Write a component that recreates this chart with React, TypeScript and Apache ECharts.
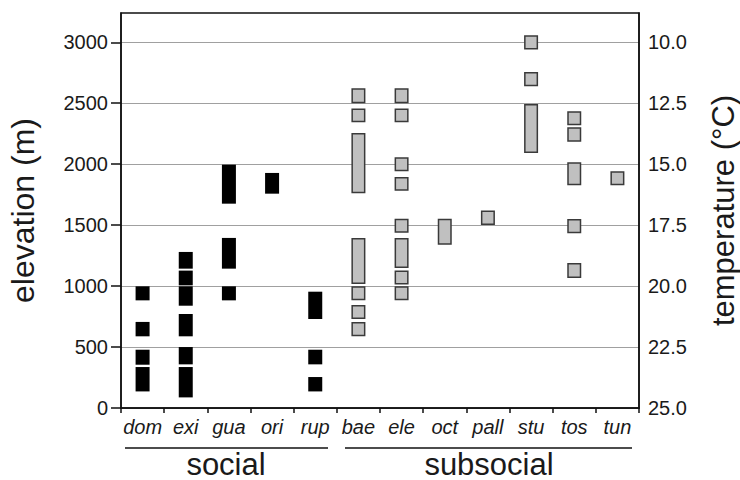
import React, { useEffect, useRef } from "react";
import * as echarts from "echarts";

const categories = ["dom", "exi", "gua", "ori", "rup", "bae", "ele", "oct", "pall", "stu", "tos", "tun"];
const elevationTicks = [0, 500, 1000, 1500, 2000, 2500, 3000];
const temperatureTicks = [10, 12.5, 15, 17.5, 20, 22.5, 25];

// [species, low elevation (m), high elevation (m)]
const socialRanges: [string, number, number][] = [
  ["dom", 883, 998], ["dom", 588, 706], ["dom", 355, 478], ["dom", 136, 336],
  ["exi", 1143, 1280], ["exi", 1006, 1127], ["exi", 839, 998], ["exi", 588, 771], ["exi", 358, 500], ["exi", 87, 336],
  ["gua", 1676, 1996], ["gua", 1143, 1395], ["gua", 883, 998],
  ["ori", 1758, 1928],
  ["rup", 730, 954], ["rup", 358, 478], ["rup", 136, 254],
];

const subsocialRanges: [string, number, number][] = [
  ["bae", 2500, 2622], ["bae", 2344, 2456], ["bae", 1761, 2256], ["bae", 1017, 1395], ["bae", 883, 998], ["bae", 730, 845], ["bae", 588, 706],
  ["ele", 2500, 2622], ["ele", 2344, 2456], ["ele", 1942, 2056], ["ele", 1781, 1895], ["ele", 1438, 1553], ["ele", 1149, 1395], ["ele", 1012, 1127], ["ele", 883, 998],
  ["oct", 1340, 1553],
  ["pall", 1502, 1619],
  ["stu", 2940, 3057], ["stu", 2639, 2757], ["stu", 2092, 2494],
  ["tos", 2319, 2434], ["tos", 2183, 2302], ["tos", 1827, 2015], ["tos", 1433, 1551], ["tos", 1067, 1190],
  ["tun", 1827, 1941],
];

const groupLabels = ["social", "subsocial"];

const ELEV_MAX = 3240;
const GRID = { left: 121, top: 13, width: 518, height: 395 };
const FONT = "'Liberation Sans', Arial, sans-serif";
const TEXT = "#1a1a1a";

export default function App() {
  const ref = useRef<HTMLDivElement>(null);
  useEffect(() => {
    if (!ref.current) return;
    const chart = echarts.init(ref.current, undefined, { renderer: "svg" });
    const toData = (rows: [string, number, number][]) =>
      rows.map((r) => [categories.indexOf(r[0]), r[1], r[2]]);

    const makeRender = (fill: string, stroke: string | null) => (params: any, api: any) => {
      const cat = api.value(0);
      const x = api.coord([cat, 0])[0];
      const top = api.coord([cat, api.value(2)])[1];
      const bot = api.coord([cat, api.value(1)])[1];
      const w = 14;
      const inset = stroke ? 0.75 : 0;
      return {
        type: "rect",
        shape: { x: x - w / 2 + inset, y: top + inset, width: w - 2 * inset, height: bot - top - 2 * inset },
        style: { fill, stroke: stroke || undefined, lineWidth: stroke ? 1.5 : 0 },
      };
    };

    const tempMin = 25 - ELEV_MAX / 200;

    chart.setOption({
      animation: false,
      grid: { left: GRID.left, top: GRID.top, width: GRID.width, height: GRID.height, outerBoundsMode: "none", containLabel: false },
      xAxis: {
        type: "category",
        data: categories,
        boundaryGap: true,
        axisLine: { show: true, lineStyle: { color: "#111", width: 1.5 } },
        axisTick: { show: true, length: 5, lineStyle: { color: "#111", width: 1.5 } },
        axisLabel: { interval: 0, margin: 9, fontSize: 20, fontStyle: "italic", color: TEXT, fontFamily: FONT },
        splitLine: { show: false },
      },
      yAxis: [
        {
          type: "value",
          min: 0,
          max: ELEV_MAX,
          interval: 500,
          name: "elevation (m)",
          nameLocation: "middle",
          nameGap: 82,
          nameTextStyle: { fontSize: 32, color: TEXT, fontFamily: FONT },
          axisLine: { show: true, lineStyle: { color: "#111", width: 1.5 } },
          axisTick: { show: true, length: 10, customValues: elevationTicks, lineStyle: { color: "#111", width: 1.5 } },
          axisLabel: {
            customValues: elevationTicks,
            margin: 13,
            fontSize: 20,
            color: TEXT,
            fontFamily: FONT,
            formatter: (v: number) => String(v),
          },
          splitLine: { show: true, lineStyle: { color: "#a0a0a0", width: 1 } },
        },
        {
          type: "value",
          position: "right",
          min: tempMin,
          max: 25,
          inverse: true,
          name: "temperature (°C)",
          nameLocation: "middle",
          nameGap: 69,
          nameRotate: 90,
          nameTextStyle: { fontSize: 31, color: TEXT, fontFamily: FONT },
          axisLine: { show: true, lineStyle: { color: "#111", width: 1.5 } },
          axisTick: { show: false },
          axisLabel: {
            customValues: temperatureTicks,
            margin: 9,
            fontSize: 20,
            color: TEXT,
            fontFamily: FONT,
            formatter: (v: number) => v.toFixed(1),
          },
          splitLine: { show: false },
        },
      ],
      series: [
        {
          type: "custom",
          name: "social",
          data: toData(socialRanges),
          encode: { x: 0, y: [1, 2] },
          renderItem: makeRender("#000000", null),
        },
        {
          type: "custom",
          name: "subsocial",
          data: toData(subsocialRanges),
          encode: { x: 0, y: [1, 2] },
          renderItem: makeRender("#c0c0c0", "#3a3a3a"),
        },
      ],
      graphic: [
        {
          type: "rect",
          z: 100,
          silent: true,
          shape: { x: GRID.left, y: GRID.top, width: GRID.width, height: GRID.height },
          style: { fill: "none", stroke: "#111", lineWidth: 1.5 },
        },
        {
          type: "line",
          z: 100,
          shape: { x1: 125, y1: 448, x2: 328, y2: 448 },
          style: { stroke: "#111", lineWidth: 1.5 },
        },
        {
          type: "line",
          z: 100,
          shape: { x1: 345, y1: 448, x2: 632, y2: 448 },
          style: { stroke: "#111", lineWidth: 1.5 },
        },
        {
          type: "text",
          z: 100,
          x: 226,
          y: 464,
          style: { text: groupLabels[0], fontSize: 31, lineHeight: 22, fontFamily: FONT, fill: TEXT, align: "center", verticalAlign: "middle" },
        },
        {
          type: "text",
          z: 100,
          x: 489,
          y: 464,
          style: { text: groupLabels[1], fontSize: 31, lineHeight: 22, fontFamily: FONT, fill: TEXT, align: "center", verticalAlign: "middle" },
        },
      ],
    });
    return () => chart.dispose();
  }, []);
  return <div ref={ref} style={{ position: "fixed", left: 0, top: 0, width: 740, height: 480, background: "#fff" }} />;
}
